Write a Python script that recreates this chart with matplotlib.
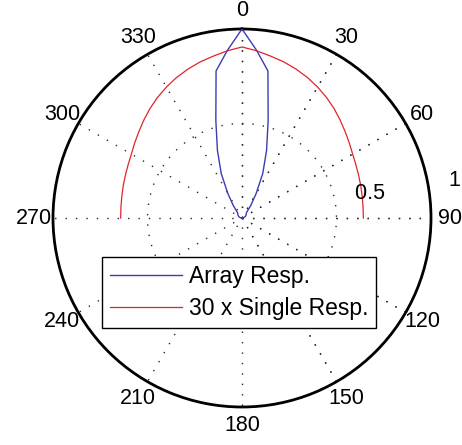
import numpy as np
import matplotlib
matplotlib.use("Agg")
import matplotlib.pyplot as plt

plt.rcParams['font.family'] = ['Liberation Sans', 'DejaVu Sans']

# Sampled look directions (degrees, clockwise from broadside)
angles_deg = [-90, -85, -80, -75, -70, -65, -60, -55, -50, -45, -40, -35, -30,
              -25, -20, -15, -10, -5, 0, 5, 10, 15, 20, 25, 30, 35, 40, 45,
              50, 55, 60, 65, 70, 75, 80, 85, 90]
# Normalised array response
array_resp = [0.0, 0.004, 0.008, 0.012, 0.015, 0.019, 0.023, 0.026, 0.029, 0.032,
              0.036, 0.08, 0.15, 0.26, 0.38, 0.535, 0.79, 0.89, 1.0, 0.89,
              0.79, 0.535, 0.38, 0.26, 0.15, 0.08, 0.036, 0.032, 0.029, 0.026,
              0.023, 0.019, 0.015, 0.012, 0.008, 0.004, 0.0]
# Single element response scaled by 30
single_resp_x30 = [0.642, 0.643, 0.646, 0.651, 0.657, 0.665, 0.676, 0.693, 0.712,
                   0.734, 0.757, 0.779, 0.800, 0.820, 0.838, 0.855, 0.870, 0.888,
                   0.905, 0.888, 0.870, 0.855, 0.838, 0.820, 0.800, 0.779, 0.757,
                   0.734, 0.712, 0.693, 0.676, 0.665, 0.657, 0.651, 0.646, 0.643,
                   0.642]

series_labels = ['Array Resp.', '30 x Single Resp.']
angle_ticks = [0, 30, 60, 90, 120, 150, 180, 210, 240, 270, 300, 330]
radius_ticks = [0.5, 1]

W, H = 462, 445
fig = plt.figure(figsize=(W / 100, H / 100), dpi=100)
cx, cy, R = 242, 218, 189
ax = fig.add_axes([(cx - R) / W, (H - cy - R) / H, 2 * R / W, 2 * R / H],
                  projection='polar')
ax.set_theta_zero_location('N')
ax.set_theta_direction(-1)
ax.set_ylim(0, 1)
ax.set_xticks([])
ax.set_yticks([])
ax.grid(False)
ax.spines['polar'].set_linewidth(2.0)
ax.spines['polar'].set_color('black')

dot_style = dict(color='#2a2a2a', lw=1.0, linestyle=(0, (1.0, 6.5)), zorder=1)
# Spokes through the centre
for a in angle_ticks[:6]:
    t = np.deg2rad(a)
    ax.plot([t, t + np.pi], [1, 1], **dot_style)
    ax.plot([t, t], [0, 1], **dot_style)
# Range rings
ring_t = np.linspace(0, 2 * np.pi, 361)
for r in radius_ticks[:-1]:
    ax.plot(ring_t, np.full_like(ring_t, r), **dot_style)

th = np.deg2rad(angles_deg)
ax.plot(th, array_resp, color='#3c3cb4', lw=1.0, label=series_labels[0], zorder=3)
ax.plot(th, single_resp_x30, color='#e3222c', lw=0.9, label=series_labels[1], zorder=3)

# Angle labels
for a in angle_ticks:
    ax.text(np.deg2rad(a), 1.1, str(a), ha='center', va='center', fontsize=15.5)
# Radius labels
for r in radius_ticks:
    ax.text(np.deg2rad(82), r + 0.04, '  ' + str(r), ha='left', va='bottom',
            fontsize=15.5)

leg = fig.legend(loc='upper left', bbox_to_anchor=(101.7 / W, 1 - 256.7 / H),
                 bbox_transform=fig.transFigure, fontsize=16.5, frameon=True,
                 fancybox=False, framealpha=1, edgecolor='black',
                 borderpad=0.35, handlelength=3.15, handletextpad=0.3,
                 labelspacing=0.42, borderaxespad=0)
leg.get_frame().set_linewidth(1.0)

fig.savefig('out.png', dpi=100)
